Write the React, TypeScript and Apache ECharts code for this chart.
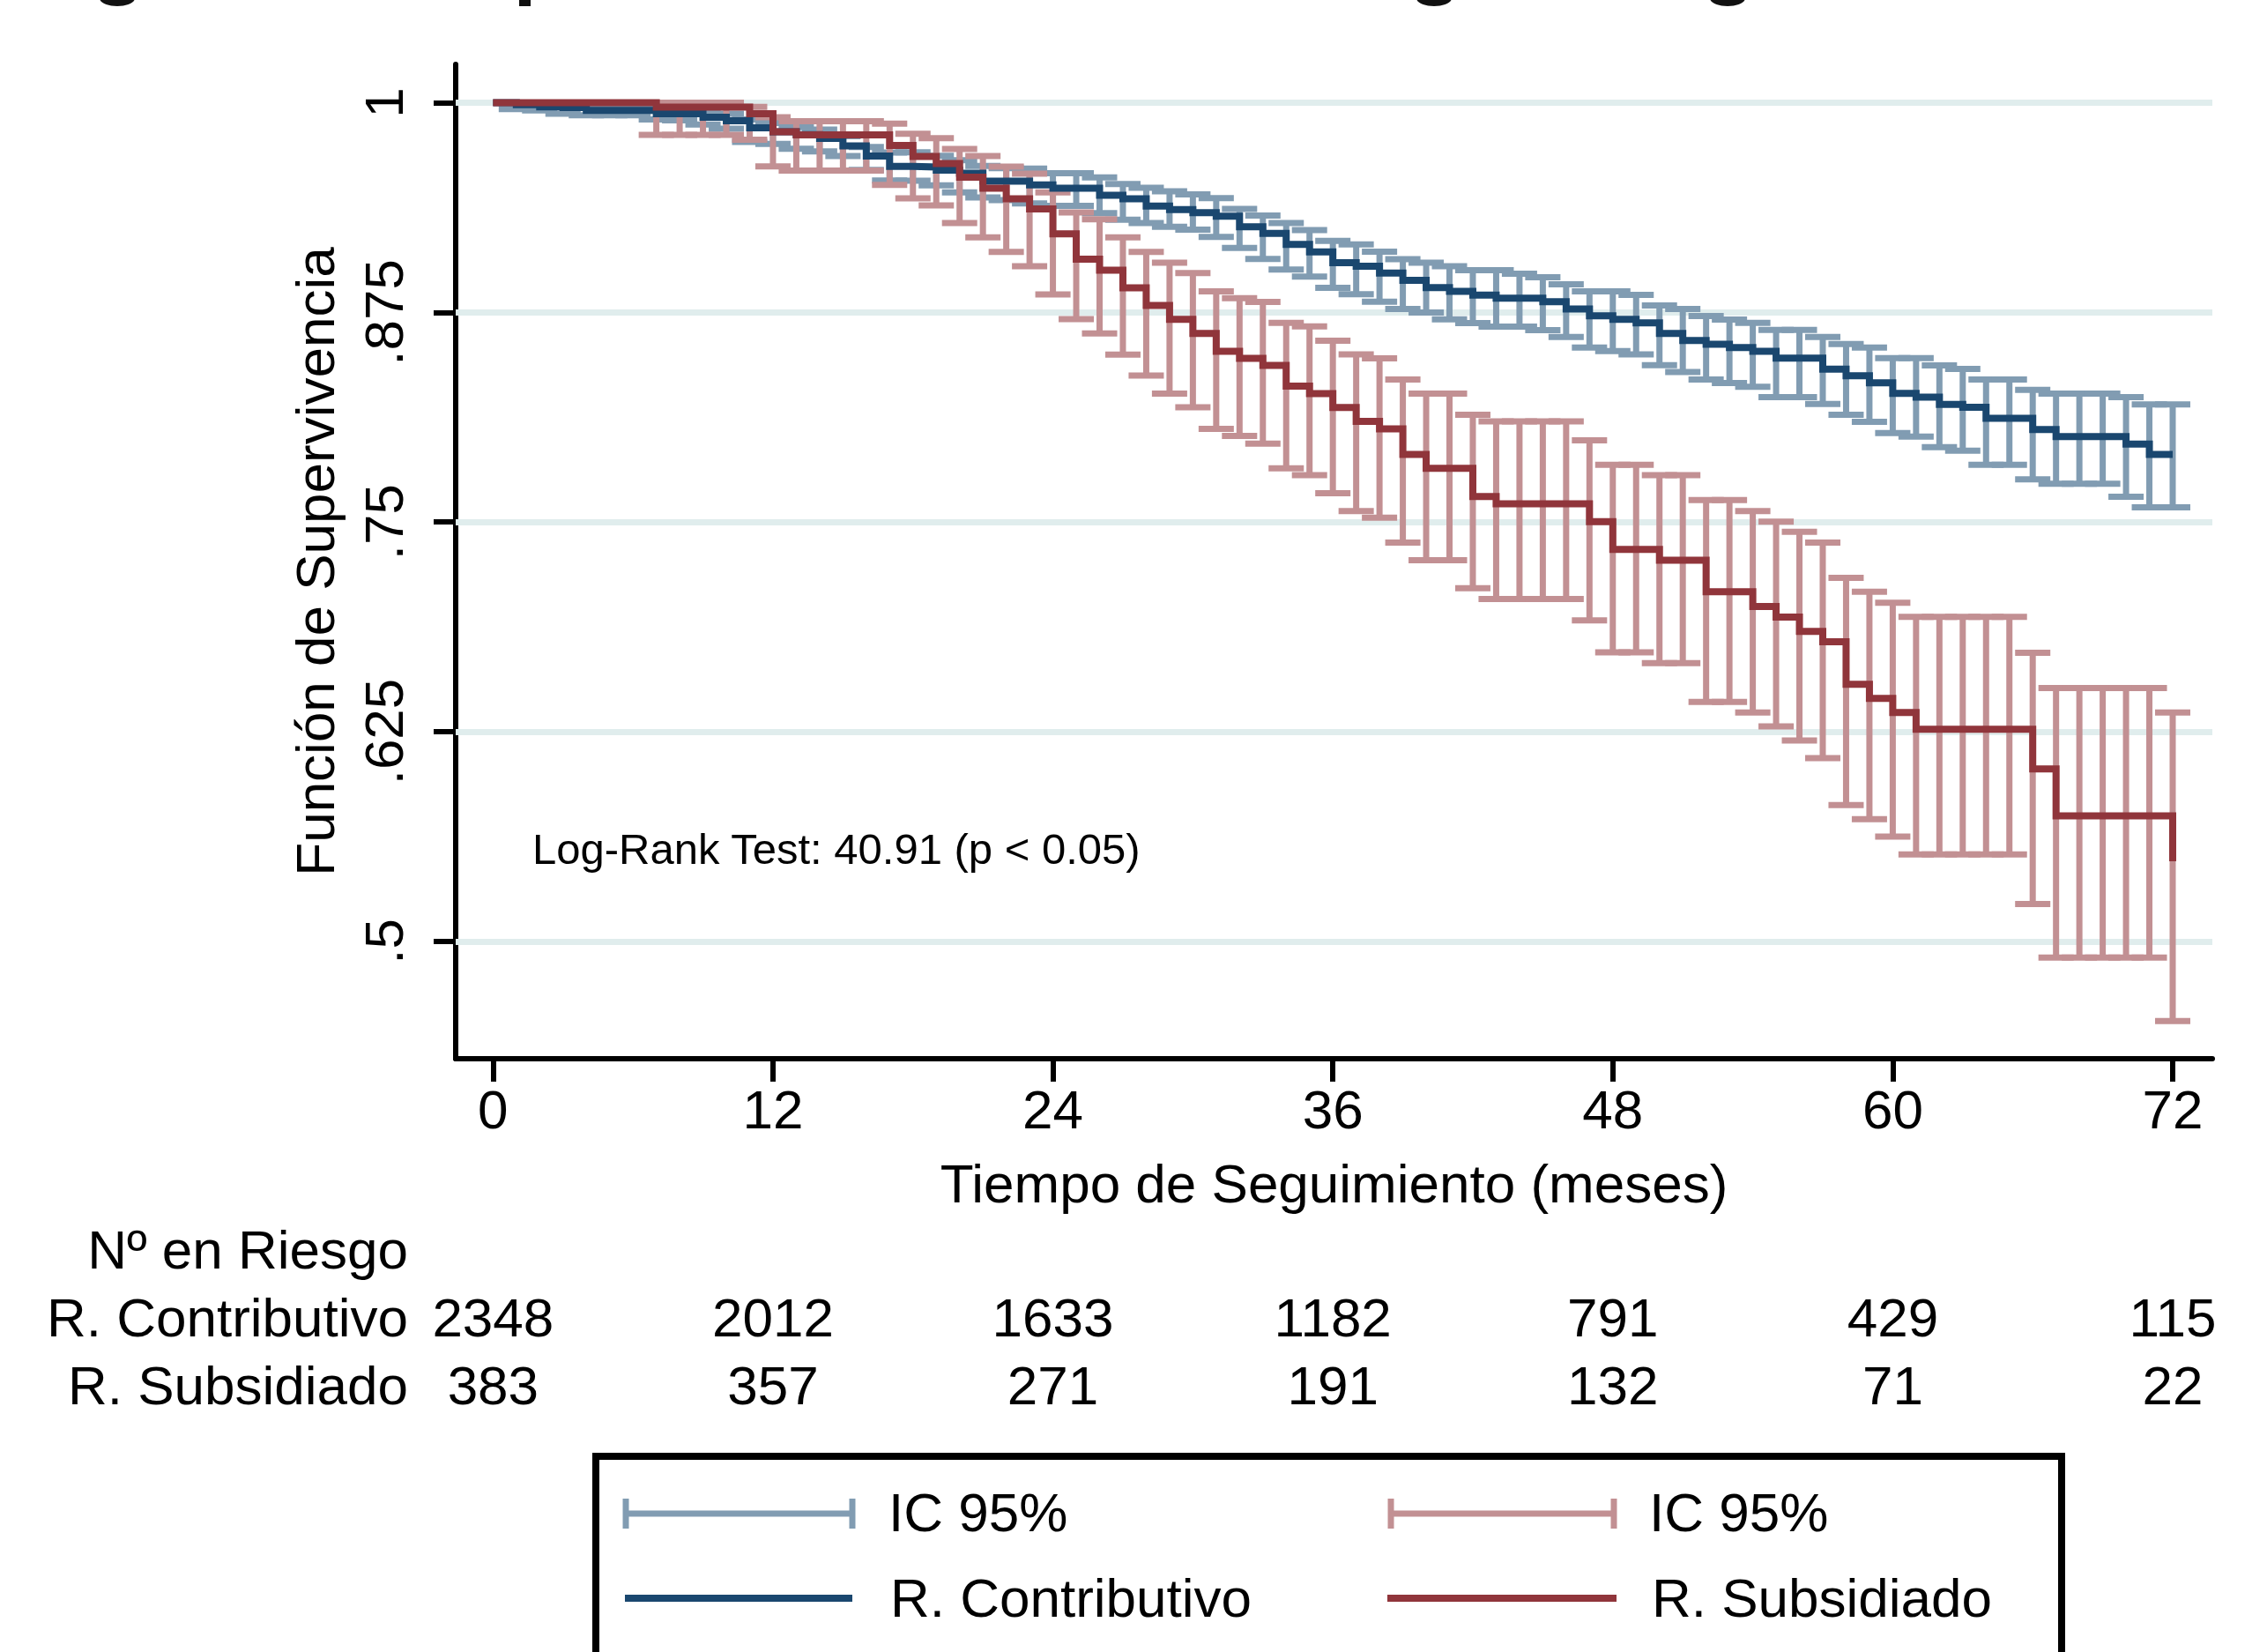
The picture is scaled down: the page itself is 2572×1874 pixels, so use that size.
import React, { useEffect, useRef } from "react";
import * as echarts from "echarts";

// ---------- data ----------
const months = [
  0, 1, 2, 3, 4, 5, 6, 7, 8, 9, 10, 11, 12, 13, 14, 15, 16, 17, 18, 19, 20, 21, 22, 23, 24,
  25, 26, 27, 28, 29, 30, 31, 32, 33, 34, 35, 36, 37, 38, 39, 40, 41, 42, 43, 44, 45, 46, 47, 48,
  49, 50, 51, 52, 53, 54, 55, 56, 57, 58, 59, 60, 61, 62, 63, 64, 65, 66, 67, 68, 69, 70, 71, 72,
];

// R. Contributivo: survival estimate and 95% CI at each month
const contribSurv = [
  1, 0.9988, 0.9975, 0.9971, 0.9954, 0.9954, 0.9954, 0.9934, 0.9934, 0.9913,
  0.9892, 0.985, 0.9827, 0.981, 0.9787, 0.9743, 0.9682, 0.962, 0.9617, 0.9598,
  0.958, 0.9533, 0.9533, 0.951, 0.9491, 0.9491, 0.9449, 0.9428, 0.9384, 0.9363,
  0.9344, 0.9323, 0.9261, 0.9221, 0.9156, 0.9111, 0.9047, 0.9025, 0.8984, 0.8941,
  0.8898, 0.8876, 0.8853, 0.8835, 0.8835, 0.8814, 0.877, 0.873, 0.8709, 0.8688,
  0.8625, 0.8583, 0.856, 0.8541, 0.8518, 0.8477, 0.8477, 0.8412, 0.8372, 0.833,
  0.8267, 0.8245, 0.8201, 0.8184, 0.8119, 0.8119, 0.8052, 0.8009, 0.8009, 0.8009,
  0.7965, 0.7903, 0.7903,
];
const contribLow = [
  1, 0.9962, 0.9955, 0.9934, 0.9925, 0.9925, 0.9925, 0.99, 0.9895, 0.987,
  0.9845, 0.9766, 0.9754, 0.9726, 0.971, 0.9683, 0.96, 0.9537, 0.9535, 0.9507,
  0.9465, 0.9435, 0.942, 0.94, 0.9386, 0.9386, 0.9342, 0.9303, 0.9283, 0.9261,
  0.9244, 0.92, 0.9135, 0.9069, 0.9005, 0.8964, 0.8897, 0.8858, 0.8814, 0.877,
  0.8749, 0.8709, 0.8686, 0.8665, 0.8665, 0.8644, 0.8604, 0.854, 0.8519, 0.85,
  0.8435, 0.8394, 0.835, 0.8329, 0.8306, 0.8245, 0.8245, 0.8204, 0.814, 0.8098,
  0.8031, 0.801, 0.7947, 0.7926, 0.7842, 0.7842, 0.7754, 0.7729, 0.7729, 0.7729,
  0.7651, 0.7588, 0.7588,
];
const contribHigh = [
  1, 1, 1, 0.9995, 0.9985, 0.9985, 0.9985, 0.9965, 0.9962, 0.995,
  0.9935, 0.99, 0.988, 0.9854, 0.984, 0.98, 0.9736, 0.9703, 0.9705, 0.9684,
  0.9658, 0.9623, 0.961, 0.9607, 0.958, 0.958, 0.9555, 0.9516, 0.9493, 0.9472,
  0.9454, 0.9432, 0.9367, 0.9327, 0.9283, 0.9241, 0.9177, 0.9156, 0.9112, 0.9068,
  0.9046, 0.9025, 0.9002, 0.9002, 0.8981, 0.896, 0.8918, 0.8876, 0.8876, 0.8855,
  0.8792, 0.877, 0.8728, 0.8707, 0.8688, 0.8645, 0.8645, 0.8604, 0.8561, 0.854,
  0.8478, 0.8478, 0.8434, 0.8413, 0.835, 0.835, 0.8288, 0.8266, 0.8266, 0.8266,
  0.8245, 0.8201, 0.8201,
];

// R. Subsidiado: survival estimate and 95% CI at each month
const subsSurv = [
  1, 1, 1, 1, 1, 1, 1, 0.9974, 0.9974, 0.9974,
  0.9974, 0.9934, 0.9827, 0.9808, 0.9808, 0.9808, 0.9808, 0.9745, 0.968, 0.9638,
  0.9556, 0.949, 0.9428, 0.9367, 0.9218, 0.9067, 0.9002, 0.8897, 0.8792, 0.8709,
  0.8624, 0.8518, 0.8476, 0.8434, 0.831, 0.8266, 0.8183, 0.81, 0.8056, 0.7903,
  0.782, 0.782, 0.7652, 0.7609, 0.7609, 0.7609, 0.7609, 0.7503, 0.7337, 0.7337,
  0.7272, 0.7272, 0.7085, 0.7085, 0.6997, 0.6934, 0.6848, 0.6786, 0.6533, 0.6448,
  0.6364, 0.6264, 0.6264, 0.6264, 0.6264, 0.6264, 0.6028, 0.5748, 0.5748, 0.5748,
  0.5748, 0.5748, 0.5477,
];
const subsLow = [
  1, 1, 1, 1, 1, 1, 1, 0.9808, 0.9808, 0.9808,
  0.9808, 0.978, 0.962, 0.9596, 0.9596, 0.9596, 0.9596, 0.951, 0.943, 0.9388,
  0.9283, 0.9198, 0.9111, 0.9025, 0.8857, 0.871, 0.8624, 0.8499, 0.8373, 0.8266,
  0.8184, 0.8056, 0.8014, 0.7968, 0.782, 0.778, 0.7672, 0.7566, 0.7526, 0.7377,
  0.7272, 0.7272, 0.7105, 0.7041, 0.7041, 0.7041, 0.7041, 0.6913, 0.6723, 0.6723,
  0.6659, 0.6659, 0.6428, 0.6428, 0.6364, 0.6282, 0.6198, 0.6093, 0.5812, 0.5729,
  0.5624, 0.5518, 0.5518, 0.5518, 0.5518, 0.5518, 0.5222, 0.4903, 0.4903, 0.4903,
  0.4903, 0.4903, 0.4525,
];
const subsHigh = [
  1, 1, 1, 1, 1, 1, 1, 1, 1, 1,
  1, 0.9976, 0.9913, 0.989, 0.989, 0.989, 0.989, 0.9876, 0.9815, 0.9789,
  0.9724, 0.9682, 0.9619, 0.9577, 0.9465, 0.9346, 0.9305, 0.9198, 0.9111, 0.9047,
  0.8984, 0.8876, 0.8835, 0.8813, 0.8688, 0.8666, 0.8581, 0.85, 0.8476, 0.835,
  0.8266, 0.8266, 0.814, 0.81, 0.81, 0.81, 0.81, 0.7987, 0.7842, 0.7842,
  0.778, 0.778, 0.7631, 0.7631, 0.7566, 0.7503, 0.7442, 0.7377, 0.7167, 0.7084,
  0.7019, 0.6935, 0.6935, 0.6935, 0.6935, 0.6935, 0.672, 0.651, 0.651, 0.651,
  0.651, 0.651, 0.6364,
];

const xTicks = [0, 12, 24, 36, 48, 60, 72];
const yTicks = [0.5, 0.625, 0.75, 0.875, 1];
const yTickLabels = [".5", ".625", ".75", ".875", "1"];

const riskMonths = [0, 12, 24, 36, 48, 60, 72];
const riskContributivo = [2348, 2012, 1633, 1182, 791, 429, 115];
const riskSubsidiado = [383, 357, 271, 191, 132, 71, 22];

// ---------- styles ----------
const FONT = "'Liberation Sans', Arial, Helvetica, sans-serif";
const NAVY = "#1A476F";
const MAROON = "#90353B";
const NAVY_CI = "#819CB2";
const MAROON_CI = "#C29093";
const GRID = "#E0EDED";
const CAP = 20;
const BAR_W = 7;
const LINE_W = 8;

function makeErrorBar(color: string) {
  return (_params: any, api: any) => {
    const m = api.value(0);
    const a = api.coord([m, api.value(1)]);
    const b = api.coord([m, api.value(2)]);
    const style = { stroke: color, lineWidth: BAR_W, fill: null };
    return {
      type: "group",
      children: [
        { type: "line", shape: { x1: a[0], y1: a[1], x2: b[0], y2: b[1] }, style },
        { type: "line", shape: { x1: a[0] - CAP, y1: a[1], x2: a[0] + CAP, y2: a[1] }, style },
        { type: "line", shape: { x1: b[0] - CAP, y1: b[1], x2: b[0] + CAP, y2: b[1] }, style },
      ],
    };
  };
}

function ciData(lo: number[], hi: number[]) {
  return months.map((m, i) => [m, lo[i], hi[i]]).filter((d) => d[2] > d[1]);
}

function textEl(text: string, x: number, y: number, align: string, size = 62) {
  return {
    type: "text",
    x,
    y,
    silent: true,
    style: {
      text,
      fontSize: size,
      fontFamily: FONT,
      fill: "#000",
      align,
      verticalAlign: "middle",
    },
  };
}

const riskLabel = {
  show: true,
  position: "inside",
  formatter: (p: any) => String(p.value[2]),
  fontSize: 62,
  color: "#000",
  opacity: 1,
  textBorderWidth: 0,
  textBorderColor: "transparent",
  fontFamily: FONT,
};

export default function App() {
  const ref = useRef<HTMLDivElement>(null);

  useEffect(() => {
    document.body.style.margin = "0";
    document.body.style.overflow = "hidden";
    const chart = echarts.init(ref.current!, undefined, { renderer: "svg" });

    const option: any = {
      animation: false,
      backgroundColor: "#ffffff",
      textStyle: { fontFamily: FONT },
      grid: [
        { left: 517, right: 62, top: 73, bottom: 673, containLabel: false, outerBoundsMode: "none" },
        { left: 517, right: 62, top: 1494, height: 77, containLabel: false, outerBoundsMode: "none" },
      ],
      xAxis: [
        {
          type: "value",
          gridIndex: 0,
          min: -1.6,
          max: 73.7,
          axisLine: { show: true, onZero: false, lineStyle: { color: "#000", width: 6 } },
          axisTick: { show: true, customValues: xTicks, length: 26, lineStyle: { color: "#000", width: 6 } },
          axisLabel: {
            show: true,
            customValues: xTicks,
            margin: 26,
            fontSize: 62,
            color: "#000",
            fontFamily: FONT,
          },
          splitLine: { show: false },
          name: "Tiempo de Seguimiento (meses)",
          nameLocation: "middle",
          nameGap: 110,
          nameMoveOverlap: false,
          nameTextStyle: { fontSize: 62, color: "#000", fontFamily: FONT },
        },
        { type: "value", gridIndex: 1, min: -1.6, max: 73.7, show: false },
      ],
      yAxis: [
        {
          type: "value",
          gridIndex: 0,
          min: 0.43,
          max: 1.0229,
          axisLine: { show: true, onZero: false, lineStyle: { color: "#000", width: 6 } },
          axisTick: { show: true, customValues: yTicks, length: 25, lineStyle: { color: "#000", width: 6 } },
          axisLabel: {
            show: true,
            customValues: yTicks,
            rotate: 90,
            margin: 51,
            fontSize: 62,
            color: "#000",
            fontFamily: FONT,
            formatter: (v: number) => {
              const i = yTicks.findIndex((t) => Math.abs(t - v) < 1e-9);
              return i >= 0 ? yTickLabels[i] : "";
            },
          },
          splitLine: { show: false },
          name: "Función de Supervivencia",
          nameLocation: "middle",
          nameRotate: 90,
          nameGap: 129,
          nameMoveOverlap: false,
          nameTextStyle: { fontSize: 62, color: "#000", fontFamily: FONT },
        },
        { type: "value", gridIndex: 1, min: 0, max: 1, show: false },
      ],
      series: [
        {
          type: "line",
          name: "grid",
          xAxisIndex: 0,
          yAxisIndex: 0,
          data: [],
          z: 1,
          silent: true,
          markLine: {
            z: 1,
            silent: true,
            precision: 6,
            symbol: ["none", "none"],
            label: { show: false },
            lineStyle: { color: GRID, width: 7, type: "solid" },
            emphasis: { disabled: true },
            data: yTicks.map((v) => ({ yAxis: v })),
          },
        },
        {
          type: "custom",
          name: "IC 95% Contributivo",
          xAxisIndex: 0,
          yAxisIndex: 0,
          z: 2,
          silent: true,
          data: ciData(contribLow, contribHigh),
          encode: { x: 0, y: [1, 2] },
          renderItem: makeErrorBar(NAVY_CI),
        },
        {
          type: "custom",
          name: "IC 95% Subsidiado",
          xAxisIndex: 0,
          yAxisIndex: 0,
          z: 2,
          silent: true,
          data: ciData(subsLow, subsHigh),
          encode: { x: 0, y: [1, 2] },
          renderItem: makeErrorBar(MAROON_CI),
        },
        {
          type: "line",
          name: "R. Contributivo",
          xAxisIndex: 0,
          yAxisIndex: 0,
          z: 3,
          silent: true,
          step: "end",
          symbol: "none",
          showSymbol: false,
          lineStyle: { color: NAVY, width: LINE_W, join: "miter" },
          data: months.map((m, i) => [m, contribSurv[i]]),
        },
        {
          type: "line",
          name: "R. Subsidiado",
          xAxisIndex: 0,
          yAxisIndex: 0,
          z: 3,
          silent: true,
          step: "end",
          symbol: "none",
          showSymbol: false,
          lineStyle: { color: MAROON, width: LINE_W, join: "miter" },
          data: months.map((m, i) => [m, subsSurv[i]]),
        },
        {
          type: "scatter",
          name: "riesgo contributivo",
          xAxisIndex: 1,
          yAxisIndex: 1,
          silent: true,
          symbolSize: 0,
          itemStyle: { color: "#000" },
          label: riskLabel,
          data: riskMonths.map((m, i) => [m, 1, riskContributivo[i]]),
        },
        {
          type: "scatter",
          name: "riesgo subsidiado",
          xAxisIndex: 1,
          yAxisIndex: 1,
          silent: true,
          symbolSize: 0,
          itemStyle: { color: "#000" },
          label: riskLabel,
          data: riskMonths.map((m, i) => [m, 0, riskSubsidiado[i]]),
        },
      ],
      graphic: [
        // cut-off title descenders at the very top
        { type: "ellipse", silent: true, shape: { cx: 133, cy: -2, rx: 20, ry: 9 }, style: { fill: "#111" } },
        { type: "rect", silent: true, shape: { x: 589, y: 0, width: 13, height: 7 }, style: { fill: "#111" } },
        { type: "ellipse", silent: true, shape: { cx: 1627, cy: -2, rx: 20, ry: 9 }, style: { fill: "#111" } },
        { type: "ellipse", silent: true, shape: { cx: 1960, cy: -2, rx: 20, ry: 9 }, style: { fill: "#111" } },

        // log-rank annotation
        textEl("Log-Rank Test: 40.91 (p < 0.05)", 604, 963, "left", 49),

        // number-at-risk table labels
        textEl("Nº en Riesgo", 463, 1417, "right"),
        textEl("R. Contributivo", 463, 1494, "right"),
        textEl("R. Subsidiado", 463, 1571, "right"),

        // legend box
        {
          type: "rect",
          silent: true,
          z: 10,
          shape: { x: 676, y: 1652, width: 1663, height: 400 },
          style: { fill: "#ffffff", stroke: "#000", lineWidth: 8 },
        },
        // legend: IC (contributivo)
        { type: "line", silent: true, z: 11, shape: { x1: 710, y1: 1717, x2: 967, y2: 1717 }, style: { stroke: NAVY_CI, lineWidth: 7 } },
        { type: "line", silent: true, z: 11, shape: { x1: 710, y1: 1700, x2: 710, y2: 1734 }, style: { stroke: NAVY_CI, lineWidth: 7 } },
        { type: "line", silent: true, z: 11, shape: { x1: 967, y1: 1700, x2: 967, y2: 1734 }, style: { stroke: NAVY_CI, lineWidth: 7 } },
        { ...textEl("IC 95%", 1008, 1715, "left"), z: 11 },
        // legend: IC (subsidiado)
        { type: "line", silent: true, z: 11, shape: { x1: 1578, y1: 1717, x2: 1831, y2: 1717 }, style: { stroke: MAROON_CI, lineWidth: 7 } },
        { type: "line", silent: true, z: 11, shape: { x1: 1578, y1: 1700, x2: 1578, y2: 1734 }, style: { stroke: MAROON_CI, lineWidth: 7 } },
        { type: "line", silent: true, z: 11, shape: { x1: 1831, y1: 1700, x2: 1831, y2: 1734 }, style: { stroke: MAROON_CI, lineWidth: 7 } },
        { ...textEl("IC 95%", 1871, 1715, "left"), z: 11 },
        // legend: lines
        { type: "line", silent: true, z: 11, shape: { x1: 709, y1: 1813, x2: 967, y2: 1813 }, style: { stroke: NAVY, lineWidth: 8 } },
        { ...textEl("R. Contributivo", 1010, 1812, "left"), z: 11 },
        { type: "line", silent: true, z: 11, shape: { x1: 1574, y1: 1813, x2: 1834, y2: 1813 }, style: { stroke: MAROON, lineWidth: 8 } },
        { ...textEl("R. Subsidiado", 1874, 1812, "left"), z: 11 },
      ],
    };

    chart.setOption(option);
    return () => {
      chart.dispose();
    };
  }, []);

  return <div ref={ref} style={{ width: 2572, height: 1874 }} />;
}
